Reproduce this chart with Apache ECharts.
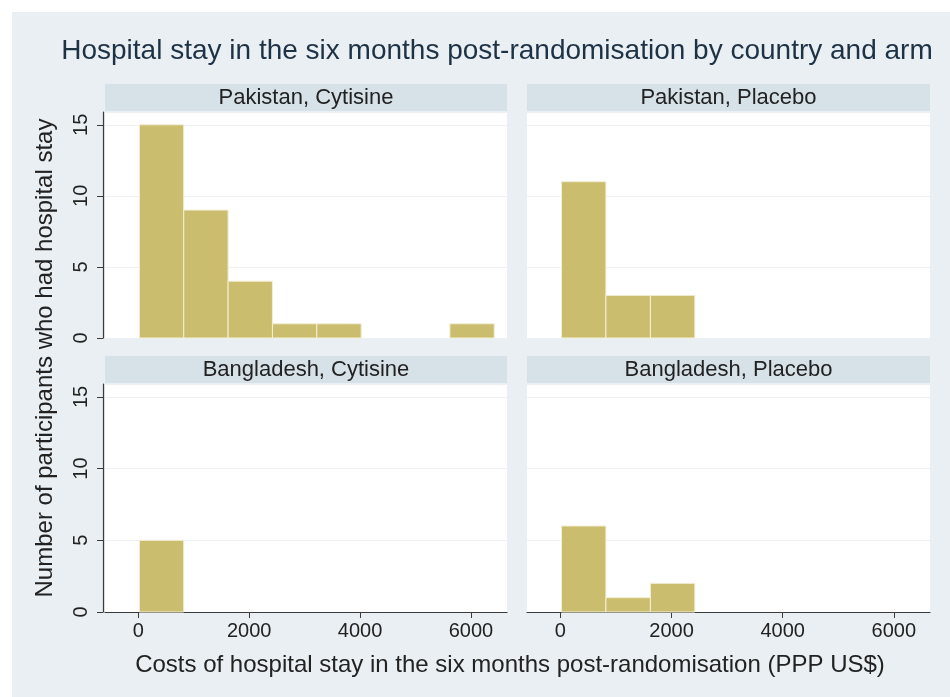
<!DOCTYPE html>
<html>
<head>
<meta charset="utf-8">
<script src="https://cdn.jsdelivr.net/npm/echarts@6/dist/echarts.min.js"></script>
<style>html,body{margin:0;padding:0;background:#fff}#c{width:950px;height:697px}</style>
</head>
<body>
<div id="c"></div>
<script>
// ---- data ----
const titleText = "Hospital stay in the six months post-randomisation by country and arm";
const xTitle = "Costs of hospital stay in the six months post-randomisation (PPP US$)";
const yTitle = "Number of participants who had hospital stay";
const panelNames = ["Pakistan, Cytisine", "Pakistan, Placebo", "Bangladesh, Cytisine", "Bangladesh, Placebo"];
const binStarts = [20, 820, 1620, 2420, 3220, 4020, 4820, 5620];
const binWidth = 800;
const pakistanCytisine = [15, 9, 4, 1, 1, 0, 0, 1];
const pakistanPlacebo = [11, 3, 3, 0, 0, 0, 0, 0];
const bangladeshCytisine = [5, 0, 0, 0, 0, 0, 0, 0];
const bangladeshPlacebo = [6, 1, 2, 0, 0, 0, 0, 0];
const xTicks = [0, 2000, 4000, 6000];
const yTicks = [0, 5, 10, 15];

// ---- layout ----
const FONT = 'Liberation Sans';
const BG = '#e9eff2';
const HEAD = '#d7e1e8';
const BAR = '#cbbd6e';
const AX = '#3a3a3a';
const panels = [
  {left: 105, top: 112, width: 402, height: 226, values: pakistanCytisine, yAxis: true, xAxis: false},
  {left: 527, top: 112, width: 403, height: 226, values: pakistanPlacebo, yAxis: false, xAxis: false},
  {left: 105, top: 384, width: 402, height: 228, values: bangladeshCytisine, yAxis: true, xAxis: true},
  {left: 527, top: 384, width: 403, height: 228, values: bangladeshPlacebo, yAxis: false, xAxis: true}
];

const grids = [], xAxes = [], yAxes = [], series = [], graphics = [];
graphics.push({type: 'rect', left: 0, top: 0, shape: {width: 950, height: 12}, style: {fill: '#fff'}, silent: true});
graphics.push({type: 'rect', left: 0, top: 0, shape: {width: 12, height: 697}, style: {fill: '#fff'}, silent: true});

panels.forEach((p, i) => {
  grids.push({left: p.left, top: p.top, width: p.width, height: p.height, show: true,
    backgroundColor: '#fff', borderWidth: 0});
  xAxes.push({type: 'value', gridIndex: i, min: -600, max: 6650,
    axisLine: {show: p.xAxis, lineStyle: {color: AX, width: 1.2}},
    axisTick: {show: p.xAxis, customValues: xTicks, length: 6, lineStyle: {color: AX}},
    axisLabel: {show: p.xAxis, customValues: xTicks, color: '#222', fontFamily: FONT, fontSize: 20, margin: 9,
      formatter: v => String(v)},
    splitLine: {show: false}});
  yAxes.push({type: 'value', gridIndex: i, min: 0, max: 15.9, interval: 5, offset: 2,
    axisLine: {show: p.yAxis, onZero: false, lineStyle: {color: AX, width: 1.2}},
    axisTick: {show: p.yAxis, length: 6, lineStyle: {color: AX, width: 1}},
    axisLabel: {show: p.yAxis, showMaxLabel: false, rotate: 90, color: '#222', fontFamily: FONT, fontSize: 20, margin: 12,
      formatter: v => (yTicks.indexOf(v) >= 0 ? String(v) : '')},
    splitLine: {show: true, lineStyle: {color: '#edf1f3', width: 1}}});
  const data = [];
  p.values.forEach((v, k) => { if (v > 0) data.push([binStarts[k], binStarts[k] + binWidth, v]); });
  series.push({type: 'custom', xAxisIndex: i, yAxisIndex: i, data: data, silent: true,
    renderItem: function (params, api) {
      const a = api.coord([api.value(0), api.value(2)]);
      const b = api.coord([api.value(1), 0]);
      return {type: 'rect', shape: {x: a[0], y: a[1], width: b[0] - a[0], height: b[1] - a[1]},
        style: {fill: BAR, stroke: '#f4efd6', lineWidth: 1}};
    }});
  const hTop = p.top - 28;
  graphics.push({type: 'rect', left: p.left, top: hTop, shape: {width: p.width, height: 27}, style: {fill: HEAD}, silent: true});
  graphics.push({type: 'text', x: p.left + p.width / 2, y: hTop + 14, silent: true,
    style: {text: panelNames[i], font: '22px "' + FONT + '"', fill: '#222', align: 'center', verticalAlign: 'middle'}});
});

graphics.push({type: 'text', x: 510, y: 665, silent: true,
  style: {text: xTitle, font: '24px "' + FONT + '"', fill: '#222', align: 'center', verticalAlign: 'middle'}});
graphics.push({type: 'text', x: 45, y: 358, rotation: Math.PI / 2, silent: true,
  style: {text: yTitle, font: '24px "' + FONT + '"', fill: '#222', align: 'center', verticalAlign: 'middle'}});

const chart = echarts.init(document.getElementById('c'), null, {renderer: 'canvas'});
chart.setOption({
  backgroundColor: BG,
  animation: false,
  title: {text: titleText, left: 492, top: 32, textAlign: 'center',
    textStyle: {fontFamily: FONT, fontSize: 28, fontWeight: 'normal', color: '#1e3246'}},
  grid: grids, xAxis: xAxes, yAxis: yAxes, series: series, graphic: graphics
});
</script>
</body>
</html>
